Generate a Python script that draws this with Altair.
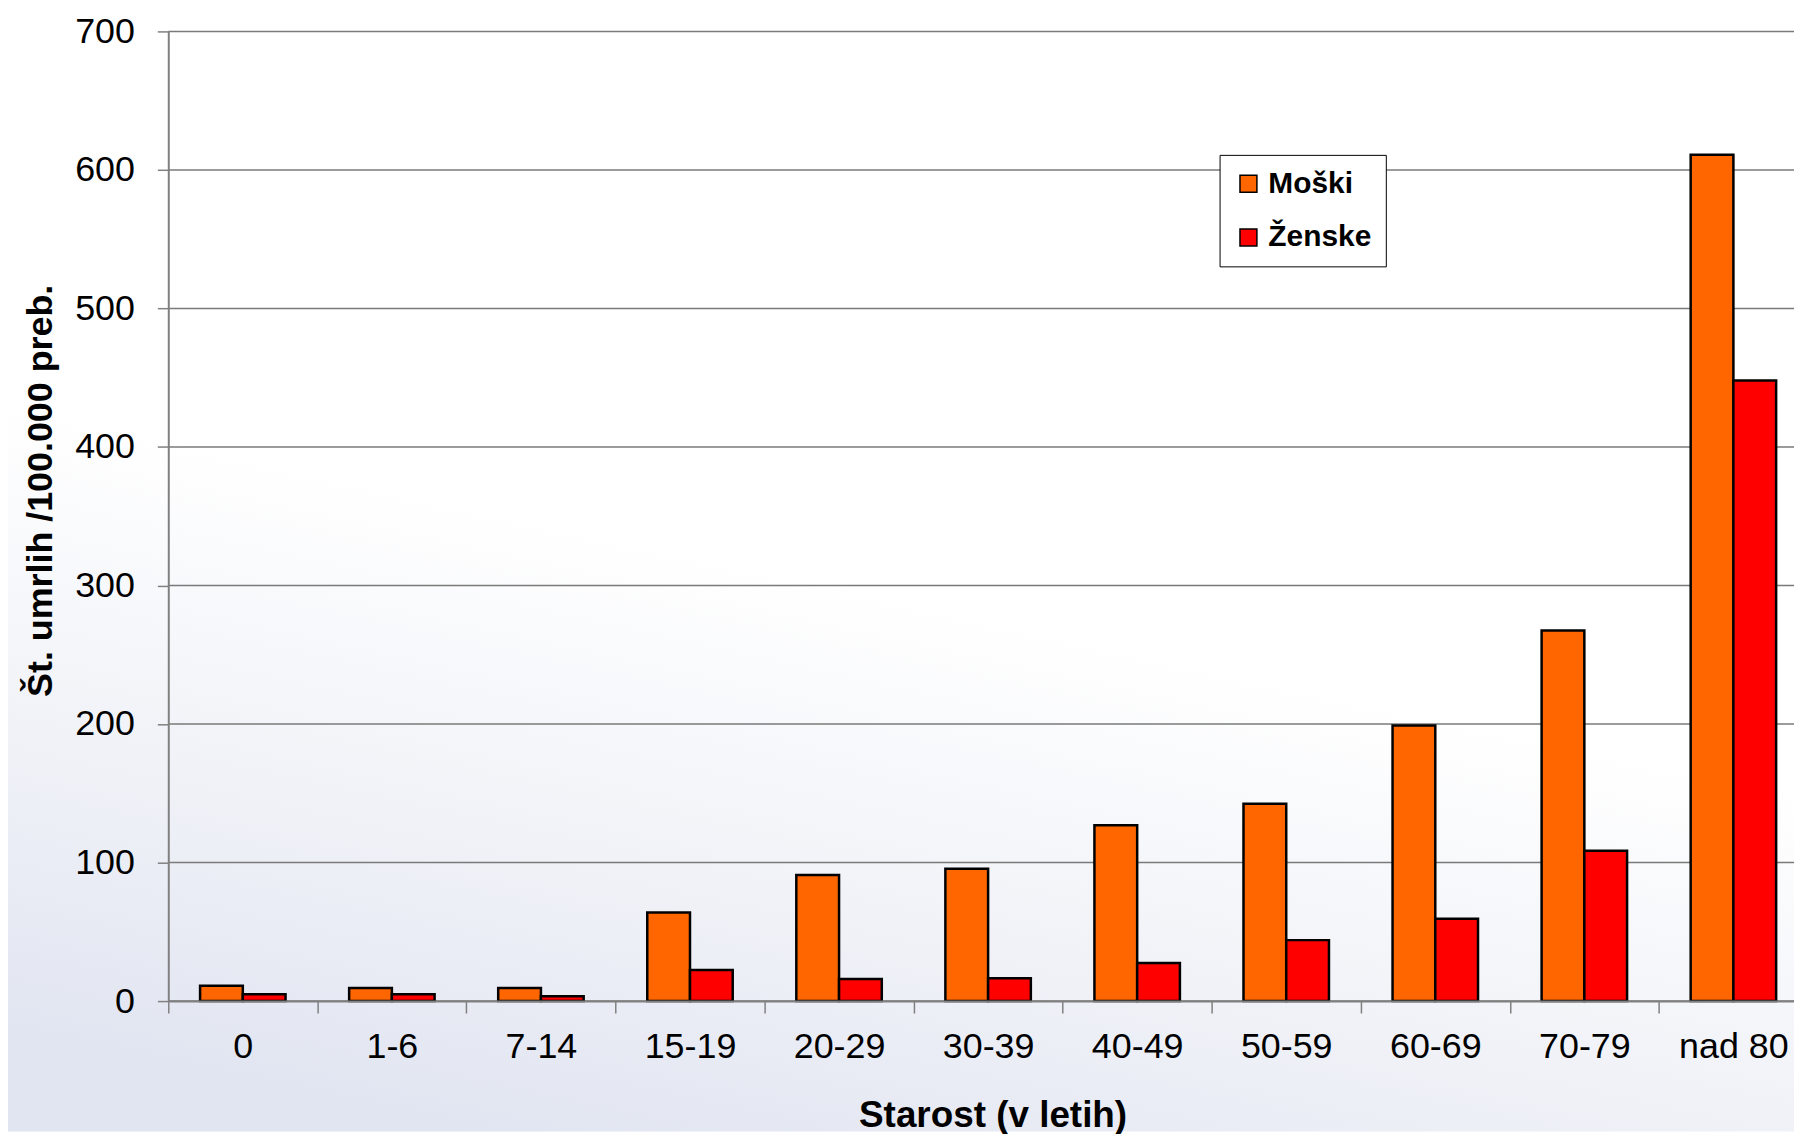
import altair as alt
import pandas as pd

ages = ["0", "1-6", "7-14", "15-19", "20-29", "30-39", "40-49", "50-59", "60-69", "70-79", "nad 80"]
moski = [11, 9.5, 9.5, 64, 91, 95.5, 127, 142.5, 199, 267.5, 611]
zenske = [5, 5, 3.5, 22.5, 16, 16.5, 27.5, 44, 59.5, 108.5, 448]
series = ["Moški", "Ženske"]
colors = ["#FF6600", "#FF0000"]
y_ticks = [0, 100, 200, 300, 400, 500, 600, 700]

rows = []
for a, m, z in zip(ages, moski, zenske):
    rows.append({"age": a, "sex": series[0], "value": m})
    rows.append({"age": a, "sex": series[1], "value": z})
df = pd.DataFrame(rows)

FONT = "Liberation Sans"
W, H = 1647, 974
yscale = alt.Scale(domain=[0, 700], nice=False)

yaxis = alt.Axis(
    title="Št. umrlih /100.000 preb.",
    zindex=1,
    values=y_ticks,
    labelFont=FONT,
    labelFontSize=36,
    labelColor="black",
    labelPadding=23,
    tickSize=11,
    tickColor="#808080",
    tickWidth=1.5,
    domainColor="#808080",
    domainWidth=2,
    grid=False,
    titleFont=FONT,
    titleFontSize=36,
    titleFontWeight="bold",
    titleColor="black",
    titleX=-128,
    titleY=461,
    titleAngle=270,
    titleBaseline="middle",
    titleAlign="center",
)

bg = alt.Chart(pd.DataFrame({"k": [0]})).mark_rect(
    fill=alt.LinearGradient(
        gradient="linear",
        stops=[
            alt.GradientStop(color="#ffffff", offset=0),
            alt.GradientStop(color="#ffffff", offset=0.5),
            alt.GradientStop(color="#eff1f7", offset=0.78),
            alt.GradientStop(color="#e1e5f1", offset=1),
        ],
        x1=0.6, y1=0, x2=0.25, y2=1,
    )
).encode(
    x=alt.value(-161), x2=alt.value(W), y=alt.value(-21), y2=alt.value(H + 131)
)

grid = alt.Chart(pd.DataFrame({"value": y_ticks})).mark_rule(
    color="#7a7a7a", strokeWidth=1.5
).encode(y=alt.Y("value:Q", scale=yscale, axis=yaxis))

bars = alt.Chart(df).mark_bar(stroke="black", strokeWidth=2.5).encode(
    x=alt.X(
        "age:N",
        sort=ages,
        scale=alt.Scale(paddingInner=0, paddingOuter=0),
        axis=alt.Axis(
            title="Starost (v letih)",
            zindex=1,
            labelAngle=0,
            labelFont=FONT,
            labelFontSize=36,
            labelColor="black",
            labelPadding=17,
            tickBand="extent",
            tickSize=12,
            tickColor="#808080",
            tickWidth=1.5,
            domainColor="#808080",
            domainWidth=2,
            grid=False,
            titleFont=FONT,
            titleFontSize=37,
            titleFontWeight="bold",
            titleColor="black",
            titleX=828,
            titleY=115,
            titleBaseline="middle",
            titleAnchor="middle",
        ),
    ),
    xOffset=alt.XOffset("sex:N", sort=series, scale=alt.Scale(paddingInner=0, paddingOuter=0.744)),
    y=alt.Y("value:Q", scale=yscale, axis=yaxis),
    color=alt.Color(
        "sex:N",
        sort=series,
        scale=alt.Scale(domain=series, range=colors),
        legend=alt.Legend(
            title=None,
            orient="none",
            legendX=1056,
            legendY=124,
            direction="vertical",
            fillColor="white",
            strokeColor="black",
            padding=14,
            rowPadding=24,
            symbolType="square",
            symbolSize=289,
            symbolStrokeColor="black",
            symbolStrokeWidth=1.5,
            symbolOpacity=1,
            labelFont=FONT,
            labelFontSize=30,
            labelFontWeight="bold",
            labelColor="black",
            labelOffset=5,
        ),
    ),
)

chart = alt.layer(bg, grid, bars).properties(
    width=W,
    height=H,
    autosize=alt.AutoSizeParams(type="none"),
    padding={"left": 161, "top": 21, "right": -14, "bottom": 131},
).configure(background="white").configure_view(strokeWidth=0)

chart.save("out.html", embed_options={"renderer": "svg", "actions": False})
